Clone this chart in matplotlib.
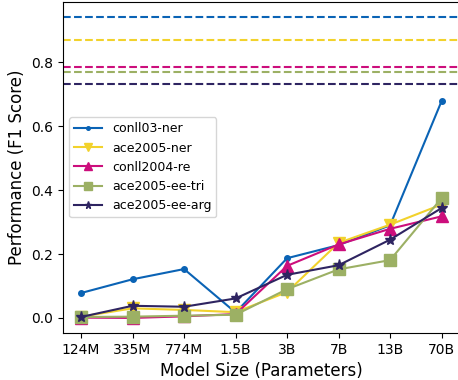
import matplotlib
matplotlib.use("Agg")
import matplotlib.pyplot as plt

# --- Data ---
sizes = ["124M", "335M", "774M", "1.5B", "3B", "7B", "13B", "70B"]
tasks = ["conll03-ner", "ace2005-ner", "conll2004-re", "ace2005-ee-tri", "ace2005-ee-arg"]

conll03_ner = [0.078, 0.121, 0.153, 0.017, 0.187, 0.228, 0.290, 0.679]
ace2005_ner = [0.004, 0.030, 0.025, 0.018, 0.081, 0.235, 0.292, 0.355]
conll2004_re = [0.001, 0.000, 0.005, 0.012, 0.163, 0.230, 0.279, 0.318]
ace2005_ee_tri = [0.003, 0.004, 0.007, 0.010, 0.090, 0.152, 0.181, 0.375]
ace2005_ee_arg = [0.003, 0.038, 0.035, 0.061, 0.135, 0.165, 0.245, 0.344]

# SOTA reference lines
sota = [0.943, 0.871, 0.785, 0.769, 0.733]

colors = ["#0a63b5", "#f2d22c", "#cc0e7c", "#9cb064", "#2e2461"]
markers = ["o", "v", "^", "s", "*"]
msizes = [4, 8, 8, 8, 8]

series = [conll03_ner, ace2005_ner, conll2004_re, ace2005_ee_tri, ace2005_ee_arg]

fig = plt.figure(figsize=(4.58, 3.8), dpi=100)
ax = fig.add_axes([0.1376, 0.1237, 0.866, 0.872])

x = list(range(len(sizes)))
for name, vals, c, m, ms, s in zip(tasks, series, colors, markers, msizes, sota):
    ax.plot(x, vals, color=c, marker=m, markersize=ms, linewidth=1.5, label=name)
    ax.axhline(s, color=c, linestyle="--", linewidth=1.5)

ax.set_xticks(x)
ax.set_xticklabels(sizes, fontsize=10)
ax.tick_params(axis="y", labelsize=10)
ax.set_xlabel("Model Size (Parameters)", fontsize=12)
ax.set_ylabel("Performance (F1 Score)", fontsize=12)
ax.legend(loc="center left", fontsize=9, markerscale=0.65, handlelength=2.2)

fig.savefig("out.png", dpi=100)
